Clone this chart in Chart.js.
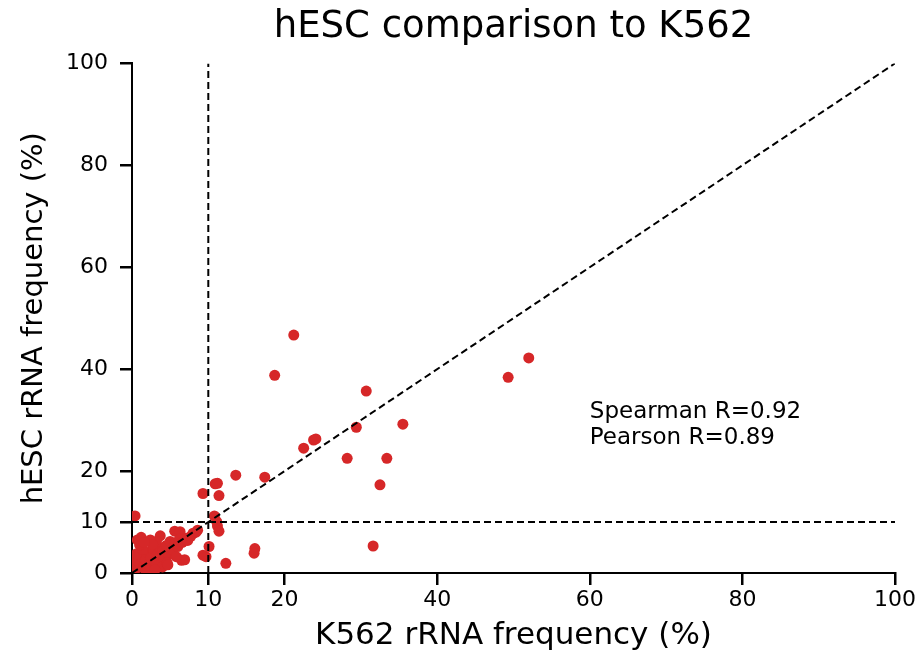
<!DOCTYPE html>
<html>
<head>
<meta charset="utf-8">
<script src="https://cdn.jsdelivr.net/npm/chart.js@4"></script>
<style>
html,body{margin:0;padding:0;background:#fff;}
#wrap{width:918px;height:660px;}
</style>
</head>
<body>
<div id="wrap"><canvas id="c" width="918" height="660"></canvas></div>
<script>
// K562 rRNA frequency (%) vs hESC rRNA frequency (%)
const k562 = [21.2,18.7,52.0,49.3,30.7,35.5,29.4,23.8,24.1,22.5,28.2,33.4,32.5,31.6,13.6,17.4,10.9,11.2,9.3,11.4,0.4,10.8,11.1,11.2,11.4,10.1,9.7,9.3,12.3,16.1,16.0,8.6,6.5,6.9,5.6,6.3,3.7,
  0.2,0.5,0.3,0.8,1.0,0.4,1.2,0.6,1.5,1.8,2.0,1.4,2.2,2.5,2.8,3.0,3.3,3.6,3.2,4.0,4.2,4.5,4.8,5.0,5.3,5.6,6.0,6.2,6.6,7.0,7.3,7.7,8.0,2.4,1.0,0.7,4.0,4.6,2.0,3.0,1.2,8.4,5.8,2.7,1.6,4.7];
const hesc = [46.7,38.8,42.2,38.4,35.7,29.2,28.6,26.1,26.3,24.5,22.5,22.5,17.3,5.3,19.2,18.8,17.5,17.6,15.6,15.2,11.2,11.2,10.1,9.2,8.2,5.2,3.2,3.5,1.9,4.8,3.9,8.4,2.5,2.6,8.2,8.1,7.3,
  0.3,0.8,1.5,1.2,2.0,2.6,3.2,3.8,1.0,2.5,4.0,4.6,1.6,3.0,4.8,2.2,3.6,5.0,6.2,4.2,2.8,5.4,3.6,6.2,4.6,5.8,5.2,6.6,6.0,6.8,6.4,7.2,7.8,6.5,5.5,6.5,1.2,2.0,0.4,0.6,7.0,8.0,3.2,5.6,6.0,1.6];
const xTicks = [0,10,20,40,60,80,100];
const yTicks = [0,10,20,40,60,80,100];
const refDiagonal = [[0,0],[100,100]];
const refVertical = [[10,0],[10,100]];
const refHorizontal = [[0,10],[100,10]];
const annotations = ["Spearman R=0.92","Pearson R=0.89"];
const annotationPos = [60,31.5,26.4]; // x, y line1, y line2 (data units)

const points = k562.map((x,i)=>({x:x,y:hesc[i]}));
const toXY = a => a.map(p=>({x:p[0],y:p[1]}));
const FONT = "'DejaVu Sans', sans-serif";

const dashLine = (data)=>({
  type:'scatter', data:toXY(data), showLine:true, borderColor:'#000', borderWidth:2,
  borderDash:[7,4], pointRadius:0, pointHoverRadius:0, fill:false, order:0
});

const annotPlugin = {
  id:'annot',
  afterDatasetsDraw(chart){
    const ctx = chart.ctx, xs = chart.scales.x, ys = chart.scales.y;
    ctx.save();
    ctx.font = "23px " + FONT;
    ctx.fillStyle = '#000';
    ctx.textAlign = 'left';
    ctx.textBaseline = 'middle';
    ctx.fillText(annotations[0], xs.getPixelForValue(annotationPos[0]), ys.getPixelForValue(annotationPos[1]));
    ctx.fillText(annotations[1], xs.getPixelForValue(annotationPos[0]), ys.getPixelForValue(annotationPos[2]));
    ctx.restore();
  }
};

new Chart(document.getElementById('c'), {
  type:'scatter',
  data:{
    datasets:[
      dashLine(refDiagonal), dashLine(refVertical), dashLine(refHorizontal),
      {data:points, backgroundColor:'#d62728', borderWidth:0, pointRadius:5.5, pointHoverRadius:5.5, order:1}
    ]
  },
  options:{
    responsive:false, animation:false, devicePixelRatio:1,
    layout:{padding:{left:8,right:23,top:0,bottom:0}},
    plugins:{
      legend:{display:false}, tooltip:{enabled:false},
      title:{display:true, fullSize:false, text:'hESC comparison to K562', color:'#000',
        font:{family:FONT, size:37, weight:'normal', lineHeight:1.2}, padding:{top:5,bottom:14}}
    },
    scales:{
      x:{type:'linear', min:0, max:100,
        afterBuildTicks(s){ s.ticks = xTicks.map(v=>({value:v})); },
        afterFit(s){ s.height = 87; },
        grid:{display:true, drawOnChartArea:false, drawTicks:true, tickLength:12, color:'#000', lineWidth:2.5},
        border:{display:true, color:'#000', width:2},
        ticks:{color:'#000', font:{family:FONT,size:22}, padding:2, maxRotation:0, autoSkip:false},
        title:{display:true, text:'K562 rRNA frequency (%)', color:'#000', font:{family:FONT,size:31}, padding:{top:4,bottom:5}}
      },
      y:{type:'linear', min:0, max:100,
        afterBuildTicks(s){ s.ticks = yTicks.map(v=>({value:v})); },
        afterFit(s){ s.width = 124; },
        grid:{display:true, drawOnChartArea:false, drawTicks:true, tickLength:12, color:'#000', lineWidth:2.5},
        border:{display:true, color:'#000', width:2},
        ticks:{color:'#000', font:{family:FONT,size:22}, padding:12, autoSkip:false},
        title:{display:true, text:'hESC rRNA frequency (%)', color:'#000', font:{family:FONT,size:29}, padding:{top:9,bottom:4}}
      }
    }
  },
  plugins:[annotPlugin]
});
</script>
</body>
</html>
